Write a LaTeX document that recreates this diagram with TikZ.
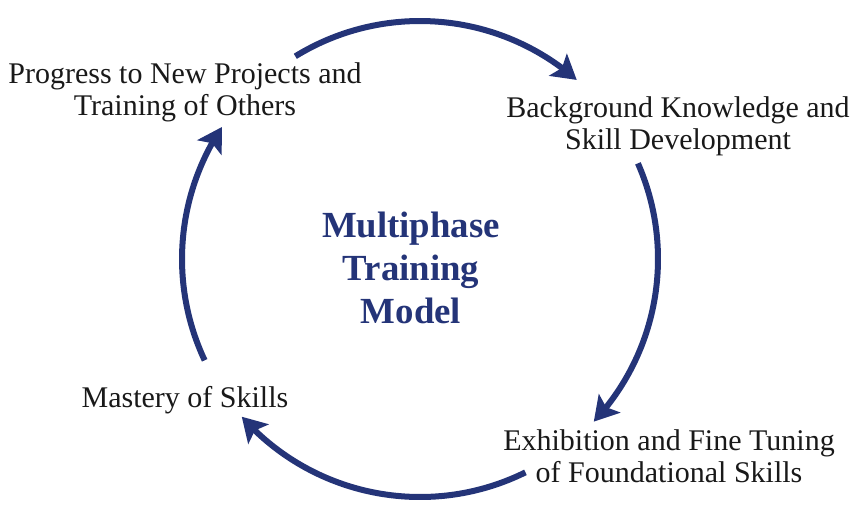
\documentclass[tikz,border=0pt]{standalone}
\usepackage{fontspec}
\setmainfont{Liberation Serif}
\usepackage{tikz}
\usetikzlibrary{arrows.meta}
\usetikzlibrary{bending}
\definecolor{navy}{RGB}{36,52,120}
\tikzset{
  phase/.style={align=center, font=\fontsize{15}{16}\selectfont, text=black!90, inner sep=0pt},
  cyc/.style={draw=navy, line width=3pt, -{Stealth[length=12pt,width=14pt,inset=2.5pt,flex]}},
  hub/.style={align=center, font=\fontsize{18.4}{21.5}\selectfont\bfseries, text=navy}
}
\begin{document}
\begin{tikzpicture}[x=1pt,y=1pt]
\useasboundingbox (0,0) rectangle (433,258);
\coordinate (o) at (210,128.5);
\node[hub] (mod) at (205.5,124) {Multiphase\\Training\\Model};
\node[phase] (prog) at (92.5,212) {Progress to New Projects and\\Training of Others};
\node[phase] (bkg) at (339,195) {Background Knowledge and\\Skill Development};
\node[phase] (exh) at (334.5,30) {Exhibition and Fine Tuning\\of Foundational Skills};
\node[phase] (mas) at (92.5,58) {Mastery of Skills};
\draw[cyc] (o) ++(121.6:119) arc[start angle=121.6, end angle=48.8, radius=119];
\draw[cyc] (o) ++(23.7:119) arc[start angle=23.7, end angle=-43.1, radius=119];
\draw[cyc] (o) ++(-63.7:119) arc[start angle=-63.7, end angle=-138.5, radius=119];
\draw[cyc] (o) ++(205.2:119) arc[start angle=205.2, end angle=146.3, radius=119];
\end{tikzpicture}
\end{document}
